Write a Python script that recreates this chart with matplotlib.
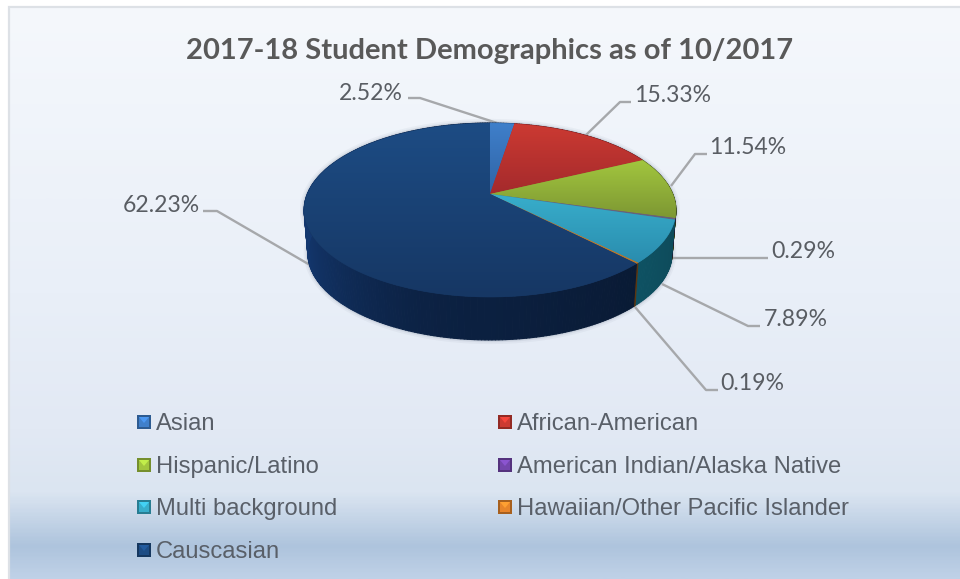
import numpy as np
import matplotlib
matplotlib.use("Agg")
import matplotlib.pyplot as plt
from matplotlib.colors import LinearSegmentedColormap, to_rgb
from matplotlib.patches import Polygon, Rectangle
from matplotlib.collections import PolyCollection

title = "2017-18 Student Demographics as of 10/2017"
categories = ["Asian", "African-American", "Hispanic/Latino",
              "American Indian/Alaska Native", "Multi background",
              "Hawaiian/Other Pacific Islander", "Causcasian"]
shares = [2.52, 15.33, 11.54, 0.29, 7.89, 0.19, 62.23]
# Light and dark end of each slice's top face, in category order
slice_colors = [("#3f7fca", "#2f64a6"), ("#cc3a32", "#a42a2c"), ("#a2c63e", "#7d9733"),
                ("#6f6a80", "#66607a"), ("#38aecb", "#2a8cae"), ("#d08a3a", "#b87528"),
                ("#1d4c84", "#163764")]
swatch_colors = ["#3f7fca", "#cc3a32", "#a2c63e", "#7446ad", "#38aecb", "#e8852a", "#1d4c84"]
wall_colors = ["#1d3f6e", "#6e1c1c", "#4d6320", "#35205a", "#167c96", "#8a5016", "#0e2850"]

fig = plt.figure(figsize=(9.6, 5.79), dpi=100, facecolor="white")
ax = fig.add_axes([0, 0, 1, 1])
ax.set_axis_off()

# Panel background with its grey top and left rule
stops = [(0.0, "#f5f8fc"), (0.50, "#e9eff8"), (0.74, "#e2e9f4"), (0.85, "#dbe5f1"),
         (0.945, "#aec4dd"), (1.0, "#bfd1e7")]
bg = LinearSegmentedColormap.from_list("panel", stops)
ax.imshow(np.linspace(0, 1, 400)[:, None], cmap=bg, aspect="auto", extent=(9, 960, 579, 7), zorder=0)
ax.plot([9, 9, 960], [579, 7, 7], color="#dde1e6", lw=1.6, zorder=1, solid_joinstyle="miter")

# Pie projected with perspective: the unit circle maps to an off-centre ellipse
cx, cy, bx, by, k = 490.0, 194.0, 182.7, 84.0, 0.184
depth, shrink = 43.0, 0.98


def project(theta):
    u, v = np.sin(theta), np.cos(theta)
    d = 1 + k * v
    return cx + bx * u / d, cy - by * v / d


def mix(color, f):
    return tuple(min(1, c * f) for c in to_rgb(color))


edges = np.cumsum([0] + shares) / sum(shares) * 2 * np.pi

# Soft shadow round the disc
ring = np.linspace(0, 2 * np.pi, 300)
rx, ry = project(ring)
for w, a in [(6, 0.04), (3.5, 0.06), (2, 0.08)]:
    ax.plot(rx, ry, color="#20304a", lw=w, alpha=a, zorder=2)
    ax.plot(cx + (rx - cx) * shrink, ry + depth, color="#20304a", lw=w, alpha=a, zorder=2)

# Side wall as thin shaded strips, one set per slice
for i, base in enumerate(wall_colors):
    t = np.linspace(edges[i], edges[i + 1], max(3, int(shares[i] * 4)))
    x, y = project(t)
    xb, yb = cx + (x - cx) * shrink, y + depth
    polys, cols = [], []
    for j in range(len(t) - 1):
        polys.append([(x[j], y[j]), (x[j + 1], y[j + 1]), (xb[j + 1], yb[j + 1]), (xb[j], yb[j])])
        s = np.sin(t[j])
        f = 0.8 - 0.2 * s if s >= 0 else 0.8 + 0.6 * s ** 2
        cols.append(mix(base, f))
    ax.add_collection(PolyCollection(polys, facecolors=cols, edgecolors=cols, linewidths=0.8, zorder=3))

# Top faces with a vertical sheen, clipped to each slice outline
for i, (c0, c1) in enumerate(slice_colors):
    t = np.linspace(edges[i], edges[i + 1], max(4, int(shares[i] * 6)))
    x, y = project(t)
    outline = Polygon(np.column_stack([np.r_[cx, x], np.r_[cy, y]]), closed=True,
                      transform=ax.transData, facecolor=c1, edgecolor=c1, lw=0.5, zorder=4)
    ax.add_patch(outline)
    cmap = LinearSegmentedColormap.from_list(f"s{i}", [c0, c1])
    im = ax.imshow(np.linspace(0, 1, 200)[:, None], cmap=cmap, aspect="auto",
                   extent=(300, 680, max(y.max(), cy), min(y.min(), cy)), zorder=5)
    im.set_clip_path(outline)

# Leader lines and value labels
leader_paths = [
    ([408, 420, 497], [98, 98, 123]),
    ([631, 620, 586], [102, 102, 135]),
    ([707, 695, 671], [154, 154, 186]),
    ([768, 672], [258, 258]),
    ([760, 748, 662], [326, 326, 284]),
    ([718, 706, 635], [390, 390, 307]),
    ([203, 217, 310], [211, 211, 265]),
]
label_spots = [(403, 93, "right"), (634, 95, "left"), (709, 148, "left"), (771, 252, "left"),
               (764, 320, "left"), (720, 384, "left"), (200, 205, "right")]
for (xs, ys), (lx, ly, ha), v in zip(leader_paths, label_spots, shares):
    ax.plot(xs, ys, color="#a6a8ab", lw=1.7, zorder=2.5, solid_capstyle="butt")
    ax.text(lx, ly, f"{v:.2f}%", ha=ha, va="center", family="Lato", fontsize=16.6,
            color="#595d63", zorder=6)

ax.text(490, 51, title, ha="center", va="center", family="Lato", weight="bold",
        fontsize=20.95, color="#595959", zorder=6)

# Hand-set legend in two columns with bevelled swatches
legend_rows = [422, 465, 507, 550]
legend_cols = [137, 498]
for n, name in enumerate(categories):
    sx, sy = legend_cols[n % 2], legend_rows[n // 2]
    hi = swatch_colors[n]
    ax.add_patch(Rectangle((sx, sy - 7), 14, 14, facecolor=mix(hi, 0.72), edgecolor="none", zorder=6))
    ax.add_patch(Rectangle((sx + 2, sy - 5), 10, 10, facecolor=hi, edgecolor="none", zorder=7))
    ax.add_patch(Polygon([(sx + 2, sy - 5), (sx + 12, sy - 5), (sx + 7, sy + 1)],
                         facecolor=mix(hi, 1.2), edgecolor="none", zorder=8))
    ax.text(sx + 19, sy + 8, name, ha="left", va="baseline", family="Liberation Sans", fontsize=17.1,
            color="#595f68", zorder=6)

ax.set_xlim(0, 960)
ax.set_ylim(579, 0)
fig.savefig("out.png", dpi=100)
